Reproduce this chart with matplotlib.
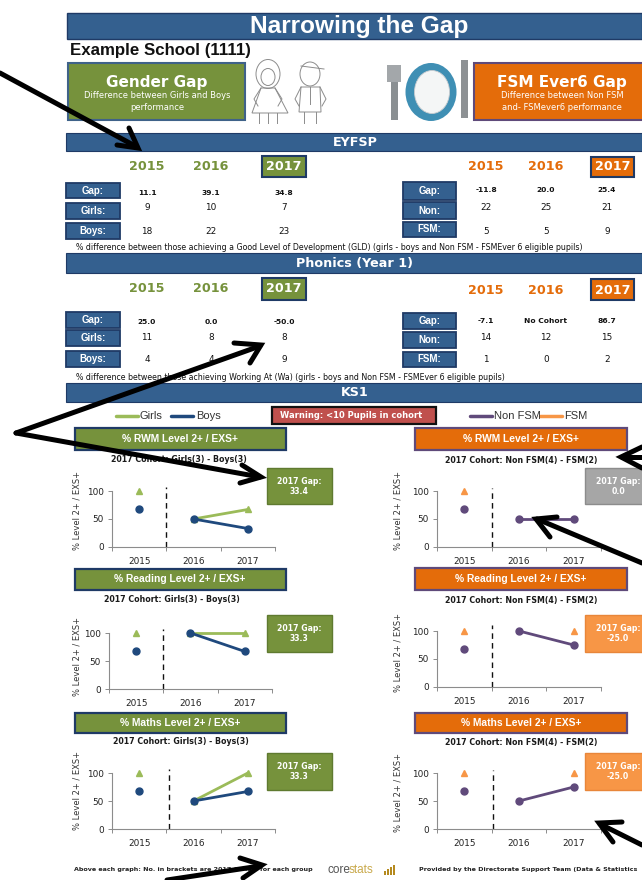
import matplotlib
matplotlib.use("Agg")
import matplotlib.pyplot as plt
from matplotlib.patches import Rectangle, Ellipse, Polygon
import numpy as np

# Daten
years = ["2015", "2016", "2017"]
nan = np.nan

eyfsp_gender = {"Gap:": ["11.1", "39.1", "34.8"], "Girls:": ["9", "10", "7"], "Boys:": ["18", "22", "23"]}
eyfsp_fsm = {"Gap:": ["-11.8", "20.0", "25.4"], "Non:": ["22", "25", "21"], "FSM:": ["5", "5", "9"]}
phonics_gender = {"Gap:": ["25.0", "0.0", "-50.0"], "Girls:": ["11", "8", "8"], "Boys:": ["4", "4", "9"]}
phonics_fsm = {"Gap:": ["-7.1", "No Cohort", "86.7"], "Non:": ["14", "12", "15"], "FSM:": ["1", "0", "2"]}

subjects = ["RWM", "Reading", "Maths"]
girls = [[100, 50, 67], [100, 100, 100], [100, 50, 100]]
boys = [[67, 50, 33], [67, 100, 67], [67, 50, 67]]
non_fsm = [[67, 50, 50], [67, 100, 75], [67, 50, 75]]
fsm = [[100, nan, nan], [100, nan, 100], [100, nan, 100]]
gender_gaps = ["33.4", "33.3", "33.3"]
fsm_gaps = ["0.0", "-25.0", "-25.0"]

# Farben
BLUE = "#34608f"
NAVY = "#1f3a66"
GREEN = "#76923c"
ORANGE = "#e46c0a"
LIGHT_ORANGE = "#f79646"
GIRL = "#9bbb59"
BOY = "#1f497d"
NONF = "#604a7b"
GREY = "#a6a6a6"
TXT = "#1a1a1a"
FONT = "DejaVu Sans"
NARROW = "Liberation Sans"

fig = plt.figure(figsize=(6.42, 8.8), dpi=100)
bg = fig.add_axes([0, 0, 1, 1])
bg.set_xlim(0, 642)
bg.set_ylim(880, 0)
bg.axis("off")


def box(x0, y0, x1, y1, fc, ec=NAVY, lw=1.5, ax=bg):
    ax.add_patch(Rectangle((x0, y0), x1 - x0, y1 - y0, fc=fc, ec=ec, lw=lw, clip_on=True))


def label(x, y, s, size=6, color=TXT, weight="bold", ha="center", family=FONT, ax=bg):
    ax.text(x, y, s, fontsize=size, color=color, fontweight=weight, ha=ha, va="center", family=family)


# Kopfbereich
box(67, 13, 642, 39, BLUE, lw=1)
label(359, 26, "Narrowing the Gap", 17.6, "white", family="Liberation Sans")
label(70, 50, "Example School (1111)", 12.2, "#111111", ha="left", family="Liberation Sans")

box(68, 63, 245, 120, GREEN, "#3f6289")
label(157, 83, "Gender Gap", 11, "white")
label(157, 96, "Difference between Girls and Boys", 6, "white", "normal")
label(157, 107, "performance", 6, "white", "normal")
box(474, 63, 645, 120, ORANGE, "#5f4a7a")
label(562, 83, "FSM Ever6 Gap", 11, "white")
label(562, 96, "Difference between Non FSM", 6, "white", "normal")
label(562, 107, "and- FSMever6 performance", 6, "white", "normal")

# Kinder (Strichzeichnung)
ink = "#8c8c8c"
for part in [Ellipse((268, 74), 24, 29), Ellipse((268, 77), 14, 17), Ellipse((310, 74), 20, 24)]:
    part.set(fc="none", ec=ink, lw=0.7)
    bg.add_patch(part)
bg.add_patch(Polygon([(261, 88), (275, 88), (288, 113), (252, 113)], fc="none", ec=ink, lw=0.7))
bg.add_patch(Polygon([(301, 87), (320, 87), (321, 112), (299, 112)], fc="none", ec=ink, lw=0.7))
for xs, ys in [([261, 254, 258], [88, 99, 106]), ([275, 282, 278], [88, 99, 106]),
               ([259, 259], [113, 123]), ([268, 268], [113, 123]), ([277, 277], [113, 123]),
               ([301, 295, 299], [87, 99, 106]), ([320, 326, 322], [87, 99, 106]),
               ([304, 304], [112, 123]), ([316, 316], [112, 123]), ([310, 310], [87, 104]),
               ([301, 324], [66, 69])]:
    bg.plot(xs, ys, color=ink, lw=0.7)

# Teller und Besteck
bg.add_patch(Rectangle((391, 80), 7, 40, fc="#8a8f92", ec="none"))
bg.add_patch(Rectangle((387, 65), 14, 17, fc="#a3a7aa", ec="none"))
bg.add_patch(Rectangle((461, 60), 7, 58, fc="#8d9194", ec="none"))
bg.add_patch(Ellipse((431, 92), 51, 58, fc="#3f8fb4", ec="none"))
bg.add_patch(Ellipse((432, 92), 35, 43, fc="#f4f6f6", ec="#c9cdd0", lw=0.6))

# Abschnittsbalken
for y0, y1, name, size in [(133, 151, "EYFSP", 9.2), (253, 273, "Phonics (Year 1)", 9.2), (383, 402, "KS1", 9.2)]:
    box(66, y0, 642, y1, BLUE, lw=0.8)
    label(355, (y0 + y1) / 2, name, size, "white")


def table(rows, x_box, x_vals, box_ys, val_ys, year_y, box2017, col):
    for i, yr in enumerate(years):
        if i == 2:
            box(box2017[0], box2017[1], box2017[2], box2017[3], col)
            label((box2017[0] + box2017[2]) / 2, year_y, yr, 9.2, "white")
        else:
            label(x_vals[i], year_y, yr, 9.2, col)
    for j, (name, vals) in enumerate(rows.items()):
        box(x_box[0], box_ys[j][0], x_box[1], box_ys[j][1], BLUE, lw=1.3)
        label(sum(x_box) / 2, sum(box_ys[j]) / 2, name, 7, "white", family=NARROW)
        for i, v in enumerate(vals):
            label(x_vals[i], val_ys[j], v, 5.4 if j == 0 else 6.4, "#111111", "bold" if j == 0 else "normal")


gx = [147, 211, 284]
ox = [486, 546, 607]
table(eyfsp_gender, (66, 120), gx, [(183, 198), (203, 219), (223, 239)], [193, 208, 231], 167, (262, 156, 306, 177), GREEN)
table(eyfsp_fsm, (403, 456), ox, [(182, 200), (202, 219), (222, 237)], [190, 208, 231], 167, (591, 157, 634, 177), ORANGE)
label(76, 248, "% difference between those achieving a Good Level of Development (GLD) (girls - boys and Non FSM - FSMEver 6 eligible pupils)", 5.68, "#111111", "normal", ha="left")

table(phonics_gender, (66, 120), gx, [(312, 328), (330, 346), (351, 367)], [322, 337, 359], 289, (262, 278, 306, 300), GREEN)
table(phonics_fsm, (403, 456), ox, [(313, 329), (332, 348), (352, 367)], [321, 337, 359], 290, (591, 279, 634, 300), ORANGE)
label(76, 377, "% difference between those achieving Working At (Wa) (girls - boys and Non FSM - FSMEver 6 eligible pupils)", 5.7, "#111111", "normal", ha="left")

# KS1 Legende
for x0, x1, tx, name, col in [(116, 138, 140, "Girls", GIRL), (171, 193, 196, "Boys", BOY),
                              (470, 492, 494, "Non FSM", NONF), (540, 562, 564, "FSM", LIGHT_ORANGE)]:
    bg.plot([x0, x1], [416, 416], color=col, lw=2.5, solid_capstyle="round")
    label(tx, 416, name, 8, "#333333", "normal", ha="left", family="Liberation Sans")
box(272, 407, 436, 424, "#c0504d", "#111111", 1.6)
label(351, 416, "Warning: <10 Pupils in cohort", 6, "white")


def chart(l, t, r, b, series, top, dash_x):
    ax = fig.add_axes([l / 642, 1 - b / 880, (r - l) / 642, (b - t) / 880])
    ax.set_xlim(-0.5, 2.5)
    ax.set_ylim(0, 100)
    ax.patch.set_alpha(0)
    for vals, col, mark, ms in series:
        ax.plot([0], vals[:1], color=col, marker=mark, ms=ms, ls="none", clip_on=False, zorder=3)
        ax.plot([1, 2], vals[1:], color=col, marker=mark, ms=ms, lw=2, clip_on=False, zorder=3)
    ax.plot([dash_x, dash_x], [0, top], color="#111111", lw=1, ls=(0, (4, 3)), clip_on=False)
    ax.spines[["top", "right"]].set_visible(False)
    ax.spines[["left", "bottom"]].set_color("#8c8c8c")
    ax.spines[["left", "bottom"]].set_linewidth(0.8)
    ax.set_yticks([0, 50, 100])
    ax.set_xticks([0, 1, 2], years)
    ax.set_xticks([-0.5, 0.5, 1.5, 2.5], minor=True)
    ax.tick_params(axis="x", which="major", length=0, pad=7, labelsize=6.4, labelcolor="#222222")
    ax.tick_params(axis="x", which="minor", length=3, color="#8c8c8c", width=0.7)
    ax.tick_params(axis="y", length=3, color="#8c8c8c", width=0.7, pad=3, labelsize=6.4, labelcolor="#222222")
    return ax


# Linke Seite: Girls / Boys, rechte Seite: Non FSM / FSM
left_head = [(428, 450), (569, 590), (713, 733)]
left_gap = [(468, 504), (615, 652), (753, 790)]
left_cohort = [(179, 460), (172, 600), (181, 742)]
left_axes = [(112, 491, 275, 547, 511, 107), (109, 633, 272, 689, 656, 107), (112, 773, 275, 829, 791, 107)]
left_dash = [0.5, 0.5, 0.55]

right_head = [(428, 450), (568, 590), (713, 733)]
right_gap = [(468, 504), (615, 652), (753, 790)]
right_axes = [(437, 491, 601, 547, 511, 105), (437, 631, 601, 687, 652, 110), (437, 773, 601, 829, 792, 105)]
right_dash = [0.5, 0.5, 0.52]

for i, subject in enumerate(subjects):
    title = f"% {subject} Level 2+ / EXS+"

    # links
    y0, y1 = left_head[i]
    box(75, y0, 286, y1, GREEN, lw=1.6)
    label(180, (y0 + y1) / 2, title, 7.4, "white", family=NARROW)
    cx, cy = left_cohort[i]
    label(cx, cy, "2017 Cohort: Girls(3) - Boys(3)", 5.7)
    l, t, r, b, yl, top = left_axes[i]
    chart(l, t, r, b, [(girls[i], GIRL, "^", 5), (boys[i], BOY, "o", 5)], top, left_dash[i])
    label(77, yl, "% Level 2+ / EXS+", 6, "#333333", "normal")
    bg.texts[-1].set_rotation(90)
    y0, y1 = left_gap[i]
    box(267, y0, 332, y1, GREEN, "#5f7a30", 1)
    label(299, (y0 + y1) / 2 - 5, "2017 Gap:", 5.6, "white")
    label(299, (y0 + y1) / 2 + 5, gender_gaps[i], 5.6, "white")

    # rechts
    y0, y1 = right_head[i]
    box(415, y0, 627, y1, ORANGE, "#5f4a7a", 1.6)
    label(521, (y0 + y1) / 2, title, 7.4, "white", family=NARROW)
    label(521, [460, 600, 742][i], "2017 Cohort: Non FSM(4) - FSM(2)", 5.7)
    l, t, r, b, yl, top = right_axes[i]
    chart(l, t, r, b, [(fsm[i], LIGHT_ORANGE, "^", 5), (non_fsm[i], NONF, "o", 5)], top, right_dash[i])
    label(398, yl, "% Level 2+ / EXS+", 6, "#333333", "normal")
    bg.texts[-1].set_rotation(90)
    y0, y1 = right_gap[i]
    col = GREY if i == 0 else LIGHT_ORANGE
    box(585, y0, 650, y1, col, "#8c8c8c" if i == 0 else "#e8863a", 1)
    label(618, (y0 + y1) / 2 - 5, "2017 Gap:", 5.6, "white")
    label(618, (y0 + y1) / 2 + 5, fsm_gaps[i], 5.6, "white")

# Fusszeile
label(74, 870, "Above each graph: No. in brackets are 2017 Cohort for each group", 4.6, "#222222", ha="left")
label(328, 870, "core", 8.5, "#555555", "normal", ha="left", family="Liberation Sans")
label(349, 870, "stats", 8.5, "#c9a94b", "normal", ha="left", family="Liberation Sans")
for x, h in [(384, 4), (387, 6), (390, 8), (393, 10)]:
    bg.add_patch(Rectangle((x, 875 - h), 2.3, h, fc="#b58a1f", ec="none"))
label(419, 870, "Provided by the Directorate Support Team (Data & Statistics", 4.6, "#222222", ha="left")

# Pfeile
top_ax = fig.add_axes([0, 0, 1, 1], zorder=10)
top_ax.set_xlim(0, 642)
top_ax.set_ylim(880, 0)
top_ax.axis("off")
top_ax.patch.set_alpha(0)
arrows = [
    [(0, 73), (137, 147)], [(117, 145), (138, 148), (129, 128)],
    [(16, 433), (260, 346)], [(234, 343), (261, 345), (250, 363)],
    [(16, 433), (260, 477)], [(242, 465), (261, 477), (240, 483)],
    [(642, 457), (622, 457)], [(642, 447), (621, 457), (642, 468)],
    [(642, 563), (537, 519)], [(557, 517), (536, 519), (550, 537)],
    [(642, 845), (600, 824)], [(622, 822), (599, 823), (613, 842)],
    [(167, 880), (260, 866)], [(240, 858), (262, 865), (243, 878)],
]
for pts in arrows:
    xs, ys = zip(*pts)
    top_ax.plot(xs, ys, color="black", lw=3.6, solid_capstyle="round", solid_joinstyle="miter")

plt.savefig("out.png", dpi=100)
